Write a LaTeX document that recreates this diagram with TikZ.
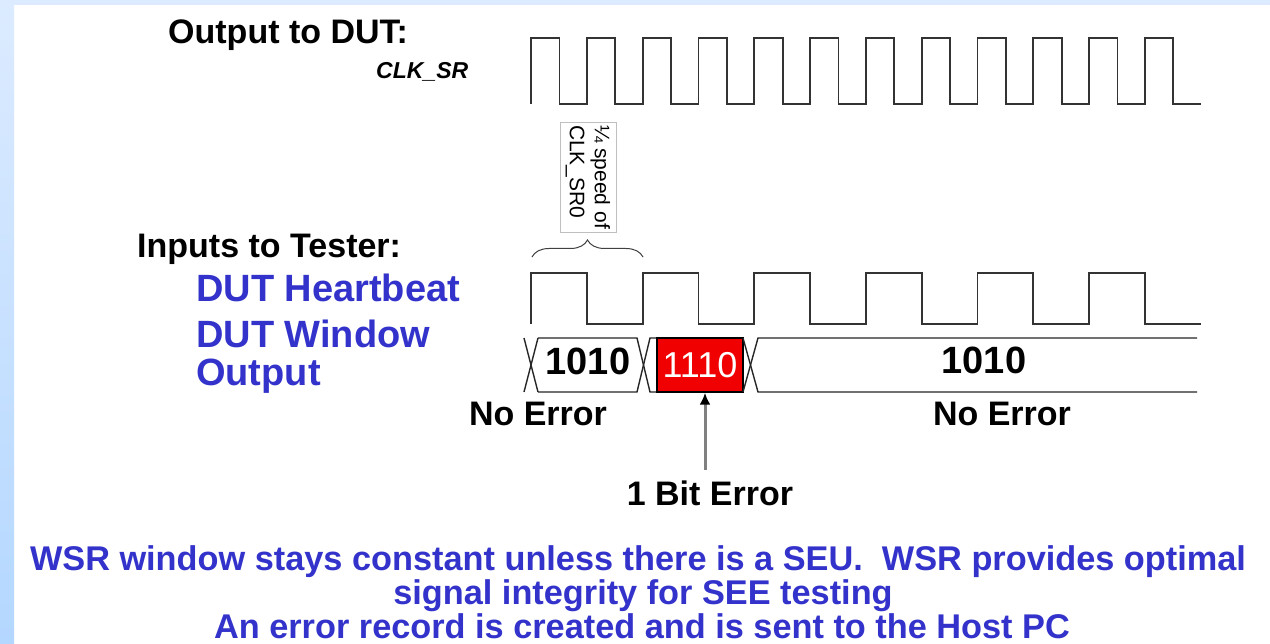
\documentclass[tikz,border=0pt]{standalone}
\usepackage{fontspec}
\setmainfont{Liberation Sans}
\usetikzlibrary{arrows.meta,decorations.pathreplacing}
\definecolor{lblblue}{RGB}{51,51,204}
\definecolor{bgtop}{RGB}{220,235,255}
\definecolor{bgbot}{RGB}{180,215,255}
\definecolor{errred}{RGB}{240,0,0}
\begin{document}
\begin{tikzpicture}[x=1pt,y=-1pt,
  lab/.style={font=\fontsize{34}{40}\selectfont\bfseries, inner sep=0pt, anchor=base west},
  bluelab/.style={lab, text=lblblue, font=\fontsize{38}{44}\selectfont\bfseries},
  ctrlab/.style={lab, anchor=base},
  bottomtxt/.style={inner sep=0pt, anchor=base, text=lblblue, font=\fontsize{34.3}{40}\selectfont\bfseries},
  wave/.style={line width=1.8pt, draw=black!80, line join=miter},
  bus/.style={line width=1.4pt, draw=black!85},
  busval/.style={inner sep=0pt, font=\fontsize{38}{44}\selectfont\bfseries},
  errbox/.style={draw=black, line width=1.4pt, fill=errred, minimum width=86pt, minimum height=54pt, inner sep=0pt, text=white, font=\fontsize{36}{42}\selectfont},
  notebox/.style={draw=black!25, line width=0.8pt, minimum width=110pt, minimum height=56pt, inner sep=2pt, align=left, rotate=-90, font=\fontsize{21}{25}\selectfont},
  pointer/.style={line width=3pt, draw=black!50, -{Latex[length=12pt,width=11pt,color=black]}},
  bracestyle/.style={draw=black!75, line width=1pt, decorate, decoration={brace, amplitude=17pt}}
]
\useasboundingbox (0,0) rectangle (1270,644);
\fill[white] (0,0) rectangle (1270,644);
% slide background bars
\shade[top color=bgtop, bottom color=bgbot] (0,0) rectangle (14,644);
\fill[bgtop] (0,0) rectangle (1270,5);

% labels
\node[lab] (outdut) at (168,44) {Output to DUT:};
\node[lab, anchor=base west, font=\fontsize{23}{27}\selectfont\bfseries\itshape] (clksr) at (376,79) {CLK\_SR};
\node[lab] (inputs) at (137,258) {Inputs to Tester:};
\node[bluelab] (hb) at (196,302) {DUT Heartbeat};
\node[bluelab] (win1) at (196,348) {DUT Window};
\node[bluelab] (win2) at (196,386) {Output};

% CLK_SR waveform
\draw[wave] (531,104) \foreach \i in {0,...,11} { -- ++(0,-66) -- ++(28.4,0) -- ++(0,66) -- ++(27.4,0) };

% heartbeat waveform
\draw[wave] (531,324) \foreach \i in {0,...,5} { -- ++(0,-51) -- ++(55.8,0) -- ++(0,51) -- ++(55.8,0) };

% note box and brace
\node[notebox] (note) at (588,177) {¼ speed of\\CLK\_SR0};
\coordinate (brL) at (532,257);
\coordinate (brR) at (643,257);
\draw[bracestyle] (brL) -- (brR);

% window bus
\draw[bus] (524,338) -- (538,392) (524,392) -- (538,338);
\draw[bus] (538,338) -- (637,338) -- (650,392) -- (657,392);
\draw[bus] (538,392) -- (637,392) -- (650,338) -- (657,338);
\node[busval] (v1) at (588,361) {1010};
\node[errbox] (err) at (700,365) {1110};
\draw[bus] (743,338) -- (758,392) -- (1197,392);
\draw[bus] (743,392) -- (758,338) -- (1197,338);
\node[busval] (v3) at (984,360) {1010};

% error labels
\node[ctrlab] (ne1) at (538,425) {No Error};
\node[ctrlab] (ne2) at (1002,425) {No Error};
\node[ctrlab] (biterr) at (710,505) {1 Bit Error};
\coordinate (arrstart) at (705,470);
\draw[pointer] (arrstart) -- (arrstart |- err.south);

% bottom text
\node[bottomtxt] (b1) at (638,570) {WSR window stays constant unless there is a SEU.\ \ WSR provides optimal};
\node[bottomtxt] (b2) at (643,604) {signal integrity for SEE testing};
\node[bottomtxt] (b3) at (642,638) {An error record is created and is sent to the Host PC};
\end{tikzpicture}
\end{document}
